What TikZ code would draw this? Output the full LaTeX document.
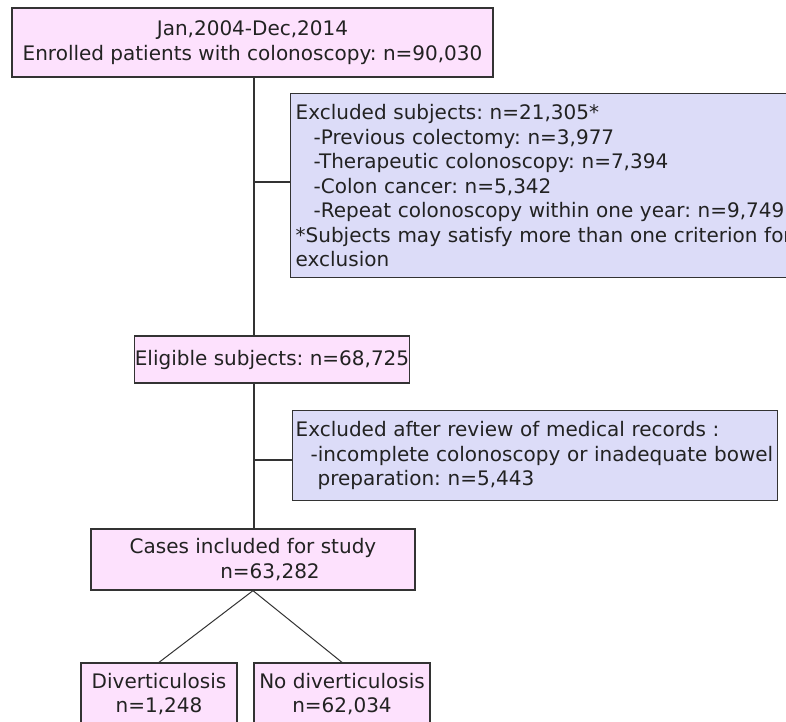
\documentclass[tikz,border=0pt]{standalone}
\usepackage{fontspec}
\setmainfont{DejaVu Sans}
\frenchspacing
\definecolor{pinkfill}{HTML}{FDE1FD}
\definecolor{bluefill}{HTML}{DCDCF8}
\definecolor{edge}{HTML}{333333}
\definecolor{ink}{HTML}{222222}
\begin{document}
\begin{tikzpicture}[x=1pt,y=-1pt,
  every node/.style={font=\fontsize{20}{24.5}\selectfont, text=ink},
  pinkbox/.style={draw=edge, line width=1.3pt, fill=pinkfill, inner sep=0pt, align=center},
  bluebox/.style={draw=edge, line width=1.3pt, fill=bluefill, inner ysep=0pt, align=left, anchor=north west},
  conn/.style={draw=edge, line width=1.3pt}]
\useasboundingbox (0,0) rectangle (786,721);
\clip (0,0) rectangle (786,721);
\fill[white] (0,0) rectangle (786,721);

\node[pinkbox, minimum width=481pt, minimum height=69pt] (top) at (252.5,42.5)
  {Jan,2004-Dec,2014\\Enrolled patients with colonoscopy: n=90,030};

\node[bluebox, inner xsep=5pt, text width=530pt, minimum height=184pt] (ex1) at (290,93)
  {Excluded subjects: n=21,305*\\
   \hspace*{18pt}-Previous colectomy: n=3,977\\
   \hspace*{18pt}-Therapeutic colonoscopy: n=7,394\\
   \hspace*{18pt}-Colon cancer: n=5,342\\
   \hspace*{18pt}-Repeat colonoscopy within one year: n=9,749\\
   {*}Subjects may satisfy more than one criterion for\\
   exclusion};

\node[pinkbox, minimum width=250pt, minimum height=47pt] (elig) at (272,359.5)
  {Eligible subjects: n=68,725};

\node[bluebox, inner xsep=3pt, text width=479pt, minimum height=90pt] (ex2) at (292,410)
  {Excluded after review of medical records :\\
   \hspace*{15pt}-incomplete colonoscopy or inadequate bowel\\
   \hspace*{22pt}preparation: n=5,443};

\node[pinkbox, minimum width=324pt, minimum height=61pt] (cases) at (253,559.5)
  {Cases included for study\\\hspace*{34pt}n=63,282};

\node[pinkbox, minimum width=156pt, minimum height=62pt] (div) at (159,694)
  {Diverticulosis\\n=1,248};
\node[pinkbox, minimum width=176pt, minimum height=62pt] (nodiv) at (342,694)
  {No diverticulosis\\n=62,034};

\coordinate (spine) at (254,0);
\coordinate (j1) at (254,182);
\coordinate (j2) at (254,460);

\draw[conn] (top.south -| spine) -- (elig.north -| spine);
\draw[conn] (elig.south -| spine) -- (cases.north -| spine);
\draw[conn] (j1) -- (j1 -| ex1.west);
\draw[conn] (j2) -- (j2 -| ex2.west);
\draw[conn, line width=1pt] (cases.south) -- (div.north);
\draw[conn, line width=1pt] (cases.south) -- (nodiv.north);
\end{tikzpicture}
\end{document}
